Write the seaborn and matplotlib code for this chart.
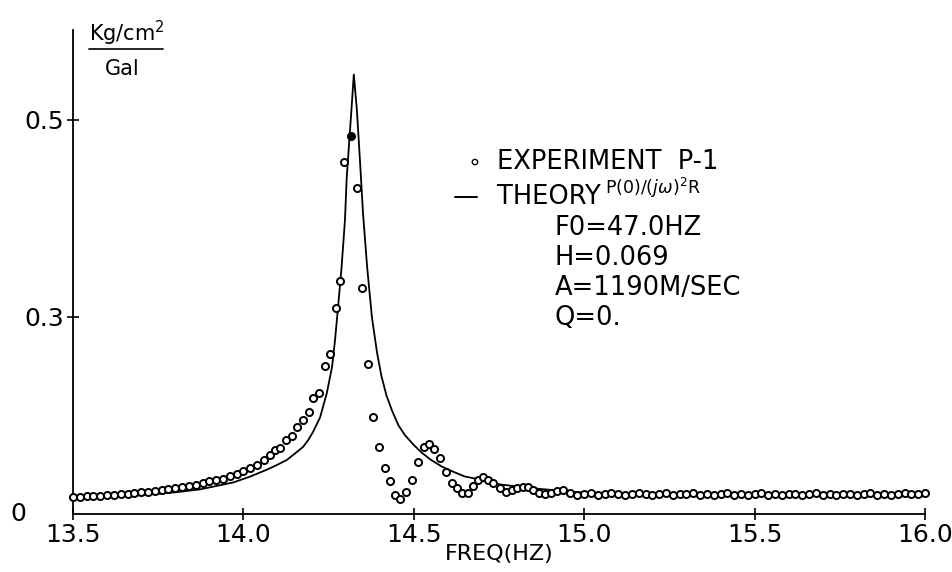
import numpy as np
import pandas as pd
import seaborn as sns
import matplotlib.pyplot as plt

# experiment P-1 : measured points
exp_freq = [13.50, 13.52, 13.54, 13.56, 13.58, 13.60, 13.62, 13.64, 13.66, 13.68,
            13.70, 13.72, 13.74, 13.76, 13.78, 13.80, 13.82, 13.84, 13.86, 13.88,
            13.90, 13.92, 13.94, 13.96, 13.98, 14.00, 14.02, 14.04, 14.06,
            14.078, 14.093, 14.107, 14.125, 14.143, 14.157, 14.175, 14.193, 14.204, 14.222,
            14.239, 14.254, 14.272, 14.283, 14.295, 14.333, 14.348, 14.366, 14.380,
            14.398, 14.415, 14.430, 14.445, 14.460, 14.477, 14.495, 14.512, 14.530, 14.545,
            14.559, 14.577, 14.594, 14.612, 14.626, 14.641, 14.659, 14.674, 14.688, 14.703,
            14.718, 14.732, 14.753, 14.771, 14.788, 14.803, 14.820, 14.835, 14.850, 14.867,
            14.885, 14.902, 14.920, 14.938, 14.958, 14.979,
            15.00, 15.02, 15.04, 15.06, 15.08, 15.10, 15.12, 15.14, 15.16, 15.18,
            15.20, 15.22, 15.24, 15.26, 15.28, 15.30, 15.32, 15.34, 15.36, 15.38,
            15.40, 15.42, 15.44, 15.46, 15.48, 15.50, 15.52, 15.54, 15.56, 15.58,
            15.60, 15.62, 15.64, 15.66, 15.68, 15.70, 15.72, 15.74, 15.76, 15.78,
            15.80, 15.82, 15.84, 15.86, 15.88, 15.90, 15.92, 15.94, 15.96, 15.98, 16.00]
exp_resp = [0.117, 0.117, 0.118, 0.118, 0.118, 0.119, 0.119, 0.120, 0.120, 0.121,
            0.122, 0.122, 0.123, 0.124, 0.125, 0.126, 0.127, 0.128, 0.129, 0.131,
            0.133, 0.134, 0.136, 0.139, 0.141, 0.144, 0.147, 0.150, 0.155,
            0.160, 0.165, 0.167, 0.175, 0.179, 0.188, 0.195, 0.203, 0.218, 0.223,
            0.250, 0.262, 0.309, 0.336, 0.457, 0.431, 0.329, 0.252, 0.198,
            0.168, 0.147, 0.133, 0.119, 0.115, 0.122, 0.134, 0.153, 0.168, 0.171,
            0.166, 0.157, 0.143, 0.131, 0.126, 0.121, 0.121, 0.128, 0.135, 0.138,
            0.135, 0.131, 0.126, 0.122, 0.124, 0.126, 0.127, 0.127, 0.124, 0.121,
            0.120, 0.121, 0.123, 0.124, 0.121, 0.119,
            0.120, 0.121, 0.119, 0.120, 0.121, 0.120, 0.119, 0.120, 0.121, 0.120,
            0.119, 0.120, 0.121, 0.119, 0.120, 0.120, 0.121, 0.119, 0.120, 0.119,
            0.120, 0.121, 0.119, 0.120, 0.119, 0.120, 0.121, 0.119, 0.120, 0.119,
            0.120, 0.120, 0.119, 0.120, 0.121, 0.119, 0.120, 0.119, 0.120, 0.120,
            0.119, 0.120, 0.121, 0.119, 0.120, 0.119, 0.120, 0.121, 0.120, 0.120, 0.121]
# the inked-in point near the peak
peak_freq = [14.316]
peak_resp = [0.484]

# theory P(0)/(jw)^2 R
th_freq = [13.50, 13.60, 13.70, 13.80, 13.873, 13.97, 14.02, 14.069, 14.10, 14.128,
           14.15, 14.175, 14.19, 14.204, 14.225, 14.245, 14.260, 14.269, 14.277, 14.288,
           14.298, 14.303, 14.311, 14.318, 14.324, 14.333, 14.342, 14.351, 14.363, 14.377,
           14.392, 14.405, 14.420, 14.436, 14.455, 14.474, 14.50, 14.524, 14.55, 14.583,
           14.615, 14.650, 14.709, 14.753, 14.850, 14.988, 15.20, 15.50, 15.80, 16.00]
th_resp = [0.115, 0.117, 0.119, 0.122, 0.125, 0.132, 0.138, 0.145, 0.150, 0.155,
           0.161, 0.168, 0.175, 0.183, 0.198, 0.223, 0.249, 0.277, 0.307, 0.350,
           0.398, 0.440, 0.480, 0.515, 0.546, 0.510, 0.459, 0.405, 0.351, 0.300,
           0.264, 0.240, 0.220, 0.205, 0.190, 0.180, 0.170, 0.162, 0.155, 0.148,
           0.143, 0.138, 0.134, 0.130, 0.126, 0.122, 0.120, 0.119, 0.118, 0.118]

exp_df = pd.DataFrame({'freq': exp_freq, 'resp': exp_resp})
th_df = pd.DataFrame({'freq': th_freq, 'resp': th_resp})
pk_df = pd.DataFrame({'freq': peak_freq, 'resp': peak_resp})

sns.set_style('ticks')
plt.rcParams['font.family'] = ['DejaVu Sans']
plt.rcParams['text.color'] = 'black'
plt.rcParams['xtick.color'] = 'black'
plt.rcParams['ytick.color'] = 'black'
plt.rcParams['axes.labelcolor'] = 'black'
plt.rcParams['axes.edgecolor'] = 'black'

fig = plt.figure(figsize=(9.53, 5.72), dpi=100)
ax = fig.add_axes([0.0766, 0.1014, 0.894, 0.846])

sns.lineplot(data=th_df, x='freq', y='resp', color='black', linewidth=1.3,
             errorbar=None, sort=True, ax=ax)
sns.scatterplot(data=exp_df, x='freq', y='resp', marker='o', s=26,
                facecolor='white', edgecolor='black', linewidth=1.4, ax=ax,
                zorder=3, clip_on=False)
sns.scatterplot(data=pk_df, x='freq', y='resp', marker='o', s=26,
                color='black', edgecolor='black', linewidth=1.4, ax=ax, zorder=4)

ax.set_xlim(13.5, 16.0)
ax.set_ylim(0.1, 0.591)
ax.set_xticks([13.5, 14.0, 14.5, 15.0, 15.5, 16.0])
ax.set_xticklabels(['13.5', '14.0', '14.5', '15.0', '15.5', '16.0'])
ax.set_yticks([0.3, 0.5])
ax.set_yticklabels(['0.3', '0.5'])
ax.tick_params(direction='inout', length=9, width=1.2, labelsize=18, pad=2)
ax.set_xlabel('FREQ(HZ)', fontsize=16, labelpad=-2)
ax.set_ylabel('')
sns.despine(ax=ax)
for s in ['left', 'bottom']:
    ax.spines[s].set_linewidth(1.3)

# origin label
fig.text(0.011, 0.101, '0', fontsize=18, ha='left', va='center')

# unit fraction
fig.text(0.133, 0.942, 'Kg/cm$^2$', fontsize=15, ha='center', va='center')
fig.add_artist(plt.Line2D([0.093, 0.171], [0.914, 0.914], color='black', linewidth=1.2))
fig.text(0.128, 0.879, 'Gal', fontsize=15, ha='center', va='center')

# legend-like annotation
fig.text(0.498, 0.716, '\u2218', fontsize=16, ha='center', va='center')
fig.text(0.521, 0.716, 'EXPERIMENT  P-1', fontsize=18.5, ha='left', va='center')
fig.add_artist(plt.Line2D([0.477, 0.501], [0.655, 0.655], color='black', linewidth=1.4))
fig.text(0.521, 0.655, 'THEORY', fontsize=18.5, ha='left', va='center')
fig.text(0.635, 0.672, r'P(0)/($j\omega$)$^{2}$R', fontsize=12.5, ha='left', va='center')
for i, line in enumerate(['F0=47.0HZ', 'H=0.069', 'A=1190M/SEC', 'Q=0.']):
    fig.text(0.582, 0.601 - i * 0.0525, line, fontsize=18.5, ha='left', va='center')

plt.savefig('out.png', dpi=100)
